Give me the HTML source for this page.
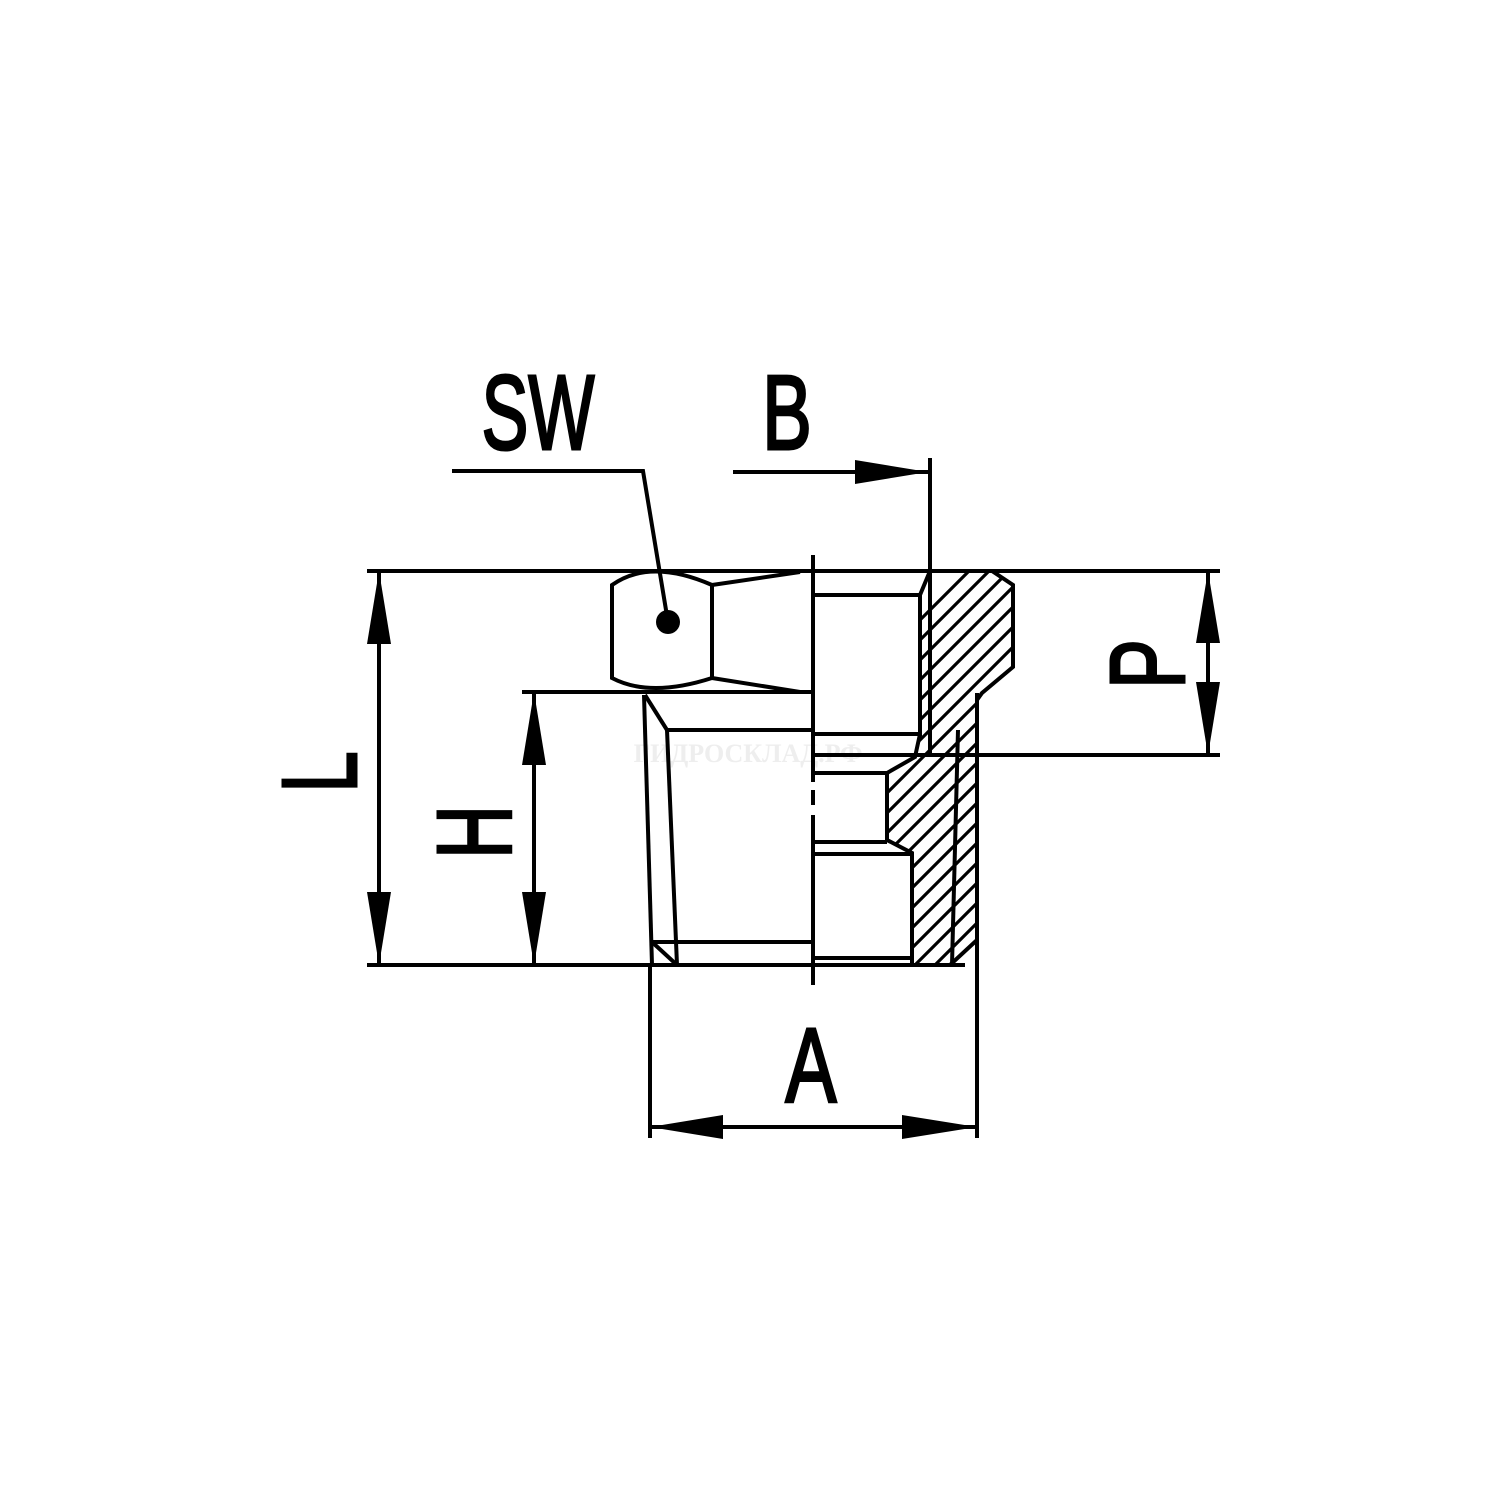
<!DOCTYPE html>
<html><head><meta charset="utf-8"><style>html,body{margin:0;padding:0;background:#fff}</style></head>
<body>
<svg width="1500" height="1500" viewBox="0 0 1500 1500" xmlns="http://www.w3.org/2000/svg">
<defs>
<clipPath id="sec"><polygon points="930,571 992,571 1013,585 1013,667 982,693 977,700 977,940 950,965 912,965 912,853 887,840 887,773 915,757 920,734 920,595"/></clipPath>
</defs>
<rect width="1500" height="1500" fill="#fff"/>
<text x="748" y="762" font-family="Liberation Serif, serif" font-size="26" font-weight="bold" fill="#eee" text-anchor="middle">ГИДРОСКЛАД.РФ</text>
<g stroke="#000" stroke-width="4" fill="none" stroke-linecap="butt">
<line x1="367" y1="571" x2="1220" y2="571"/>
<line x1="367" y1="965" x2="965" y2="965"/>
<line x1="522" y1="692" x2="812" y2="692"/>
<line x1="812" y1="755" x2="1220" y2="755"/>
<line x1="930" y1="458" x2="930" y2="755"/>
<line x1="650" y1="965" x2="650" y2="1138"/>
<line x1="977" y1="693" x2="977" y2="1138"/>
<line x1="379" y1="571" x2="379" y2="965"/>
<line x1="534" y1="692" x2="534" y2="965"/>
<line x1="650" y1="1127" x2="977" y2="1127"/>
<line x1="1208" y1="571" x2="1208" y2="755"/>
<line x1="733" y1="472" x2="930" y2="472"/>
<polyline points="452,471 643,471 668,622"/>
<path d="M612,585 L612,678 Q650,698 712,678 L712,585 Q650,558 612,585 Z"/>
<line x1="712" y1="585" x2="800" y2="572"/>
<line x1="712" y1="678" x2="800" y2="692"/>
<line x1="813" y1="555" x2="813" y2="782"/>
<line x1="813" y1="790" x2="813" y2="805"/>
<line x1="813" y1="815" x2="813" y2="985"/>
<polyline points="813,595 920,595 920,734 813,734"/>
<line x1="667" y1="730" x2="813" y2="730"/>
<line x1="644" y1="695" x2="652" y2="965"/>
<line x1="667" y1="730" x2="677" y2="965"/>
<line x1="645" y1="695" x2="667" y2="730"/>
<line x1="652" y1="942" x2="813" y2="942"/>
<line x1="652" y1="942" x2="677" y2="965"/>
<polygon points="930,571 992,571 1013,585 1013,667 982,693 977,700 977,940 950,965 912,965 912,853 887,840 887,773 915,757 920,734 920,595"/>
<line x1="813" y1="773" x2="887" y2="773"/>
<line x1="813" y1="842" x2="887" y2="842"/>
<line x1="813" y1="854" x2="912" y2="854"/>
<line x1="813" y1="958" x2="912" y2="958"/>
<line x1="958" y1="730" x2="952" y2="965"/>
<g clip-path="url(#sec)" stroke-width="3.2">
<line x1="800" y1="1000" x2="1100" y2="700"/><line x1="800" y1="980" x2="1100" y2="680"/>
<line x1="800" y1="960" x2="1100" y2="660"/><line x1="800" y1="940" x2="1100" y2="640"/>
<line x1="800" y1="920" x2="1100" y2="620"/><line x1="800" y1="900" x2="1100" y2="600"/>
<line x1="800" y1="880" x2="1100" y2="580"/><line x1="800" y1="860" x2="1100" y2="560"/>
<line x1="800" y1="840" x2="1100" y2="540"/><line x1="800" y1="820" x2="1100" y2="520"/>
<line x1="800" y1="800" x2="1100" y2="500"/><line x1="800" y1="780" x2="1100" y2="480"/>
<line x1="800" y1="760" x2="1100" y2="460"/><line x1="800" y1="740" x2="1100" y2="440"/>
<line x1="800" y1="1020" x2="1100" y2="720"/><line x1="800" y1="1040" x2="1100" y2="740"/>
<line x1="800" y1="1060" x2="1100" y2="760"/><line x1="800" y1="1080" x2="1100" y2="780"/>
<line x1="800" y1="1100" x2="1100" y2="800"/><line x1="800" y1="1120" x2="1100" y2="820"/>
</g>
</g>
<g fill="#000">
<circle cx="668" cy="622" r="12"/>
<polygon points="379,571 367,644 391,644"/>
<polygon points="379,965 367,892 391,892"/>
<polygon points="534,692 522,765 546,765"/>
<polygon points="534,965 522,892 546,892"/>
<polygon points="650,1127 723,1115 723,1139"/>
<polygon points="977,1127 902,1115 902,1139"/>
<polygon points="1208,571 1196,643 1220,643"/>
<polygon points="1208,755 1196,682 1220,682"/>
<polygon points="928,472 855,460 855,484"/>
</g>
<g font-family="Liberation Sans, sans-serif" font-size="106" fill="#000" stroke="#000" stroke-width="3" text-anchor="middle">
<g transform="translate(538,449) scale(0.66,1)"><text x="0" y="0">SW</text></g>
<g transform="translate(787,449) scale(0.7,1)"><text x="0" y="0">B</text></g>
<g transform="translate(811,1102) scale(0.72,1)"><text x="0" y="0">A</text></g>
<g transform="translate(318,772) rotate(-90) scale(0.7,1)"><text x="0" y="38">L</text></g>
<g transform="translate(473,832) rotate(-90) scale(0.7,1)"><text x="0" y="38">H</text></g>
<g transform="translate(1146,664) rotate(-90) scale(0.7,1)"><text x="0" y="38">P</text></g>
</g>
</svg>
</body></html>
